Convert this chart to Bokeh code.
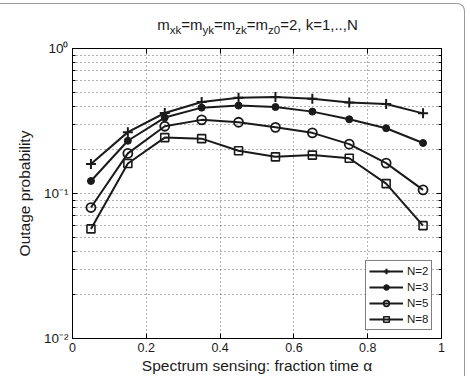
from bokeh.plotting import figure
from bokeh.layouts import column
from bokeh.models import FixedTicker, LogAxis, LinearAxis, Legend, Div
from bokeh.embed import file_html
from bokeh.resources import INLINE

# Sensing fraction alpha and outage probability per number of relays N
alpha = [0.05, 0.15, 0.25, 0.35, 0.45, 0.55, 0.65, 0.75, 0.85, 0.95]
p_n2 = [0.160, 0.265, 0.359, 0.428, 0.458, 0.463, 0.451, 0.424, 0.414, 0.357]
p_n3 = [0.122, 0.231, 0.334, 0.391, 0.404, 0.395, 0.367, 0.325, 0.282, 0.223]
p_n5 = [0.080, 0.189, 0.291, 0.322, 0.310, 0.286, 0.262, 0.219, 0.162, 0.106]
p_n8 = [0.057, 0.161, 0.243, 0.239, 0.197, 0.179, 0.184, 0.175, 0.117, 0.060]
series_labels = ["N=2", "N=3", "N=5", "N=8"]

x_ticks = [0, 0.2, 0.4, 0.6, 0.8, 1]
x_tick_labels = ["0", "0.2", "0.4", "0.6", "0.8", "1"]
y_ticks = [0.01, 0.1, 1]
y_tick_labels = ["10\u207b\u00b2", "10\u207b\u00b9", "10\u2070"]
y_minor = [k * d for d in (0.01, 0.1) for k in range(2, 10)]

# title pieces: (text, is_subscript)
title_parts = [("m", False), ("xk", True), ("=m", False), ("yk", True),
               ("=m", False), ("zk", True), ("=m", False), ("z0", True),
               ("=2, k=1,..,N", False)]

FONT = "Liberation Sans"
INK = "#1a1a1a"
W = 464          # content width inside the rounded page frame
TITLE_H = 36     # title strip height
PLOT_H = 336

# ---- title strip with real subscripts
title_html = "".join(f"<sub>{t}</sub>" if s else t for t, s in title_parts)
title = Div(
    text=(
        "<style>"
        ".ttl{margin-left:51px;width:413px;text-align:center;"
        f"padding-top:12px;font-family:'{FONT}';font-size:15px;"
        f"line-height:17px;color:{INK};white-space:nowrap;}}"
        ".ttl sub{font-size:11.5px;vertical-align:-4px;line-height:0;}"
        "</style>"
        f"<div class='ttl'>{title_html}</div>"
    ),
    width=W, height=TITLE_H, margin=0)

# ---- main plot
p = figure(width=W, height=PLOT_H, x_range=(0, 1), y_range=(0.01, 1),
           y_axis_type="log", output_backend="svg", toolbar_location=None,
           min_border_left=72, min_border_right=W - 441, min_border_top=8,
           min_border_bottom=36, background_fill_color="white",
           border_fill_color="white", margin=0)
p.outline_line_color = "black"
p.outline_line_width = 1

xticker = FixedTicker(ticks=x_ticks, minor_ticks=[])
yticker = FixedTicker(ticks=y_ticks, minor_ticks=y_minor)


def style_axis(ax, show_labels):
    ax.axis_line_color = "black"
    ax.major_tick_in = 5
    ax.major_tick_out = 0
    ax.minor_tick_in = 3
    ax.minor_tick_out = 0
    ax.major_tick_line_color = "black"
    ax.minor_tick_line_color = "black"
    ax.major_label_text_font = FONT
    ax.major_label_text_color = INK if show_labels else None
    ax.major_label_text_font_size = "12.5px"
    ax.major_label_standoff = 4 if show_labels else 0
    ax.axis_label_text_font = FONT
    ax.axis_label_text_font_style = "normal"
    ax.axis_label_text_font_size = "15.5px"
    ax.axis_label_text_color = INK


xa = p.xaxis[0]
xa.ticker = xticker
xa.major_label_overrides = dict(zip(x_ticks, x_tick_labels))
xa.axis_label = "Spectrum sensing: fraction time \u03b1"
style_axis(xa, True)
xa.axis_label_standoff = 2

ya = p.yaxis[0]
ya.ticker = yticker
ya.major_label_overrides = dict(zip(y_ticks, y_tick_labels))
ya.axis_label = "Outage probability"
style_axis(ya, True)
ya.major_label_text_font_size = "13.5px"
ya.axis_label_standoff = 8

# mirrored ticks on the top and right edges of the box
top_ax = LinearAxis(ticker=xticker,
                    major_label_overrides={t: "" for t in x_ticks})
style_axis(top_ax, False)
p.add_layout(top_ax, "above")
right_ax = LogAxis(ticker=yticker,
                   major_label_overrides={t: "" for t in y_ticks})
style_axis(right_ax, False)
p.add_layout(right_ax, "right")

# dotted grid
p.xgrid.ticker = xticker
p.ygrid.ticker = yticker
for g in (p.xgrid[0], p.ygrid[0]):
    g.grid_line_color = "#666666"
    g.grid_line_dash = "1 3"
    g.grid_line_width = 1
p.ygrid.minor_grid_line_color = "#666666"
p.ygrid.minor_grid_line_dash = "1 3"

# series
lw = 2
items = []
r = p.line(alpha, p_n2, line_color=INK, line_width=lw)
m = p.scatter(alpha, p_n2, marker="cross", size=10, line_color=INK,
              line_width=2)
items.append((series_labels[0], [r, m]))
r = p.line(alpha, p_n3, line_color=INK, line_width=lw)
m = p.scatter(alpha, p_n3, marker="circle", size=7, line_color=INK,
              fill_color=INK)
items.append((series_labels[1], [r, m]))
r = p.line(alpha, p_n5, line_color=INK, line_width=lw)
m = p.scatter(alpha, p_n5, marker="circle", size=9, line_color=INK,
              fill_color=None, line_width=1.8)
items.append((series_labels[2], [r, m]))
r = p.line(alpha, p_n8, line_color=INK, line_width=lw)
m = p.scatter(alpha, p_n8, marker="square", size=8, line_color=INK,
              fill_color=None, line_width=1.6)
items.append((series_labels[3], [r, m]))

legend = Legend(items=items, location=(293, 8))
legend.border_line_color = "black"
legend.border_line_width = 1
legend.background_fill_color = "white"
legend.background_fill_alpha = 1
legend.label_text_font = FONT
legend.label_text_font_size = "11.5px"
legend.label_text_color = INK
legend.glyph_width = 34
legend.glyph_height = 14
legend.label_height = 14
legend.label_standoff = 4
legend.spacing = 2
legend.padding = 3
legend.margin = 0
p.add_layout(legend, "center")

page = column(title, p, spacing=0,
              styles={"margin-top": "3px",
                      "border-top": "1px solid #9a9a9a",
                      "border-right": "1px solid #9a9a9a",
                      "border-top-right-radius": "8px",
                      "background": "white"})

open("out.html", "w").write(file_html(page, INLINE))
